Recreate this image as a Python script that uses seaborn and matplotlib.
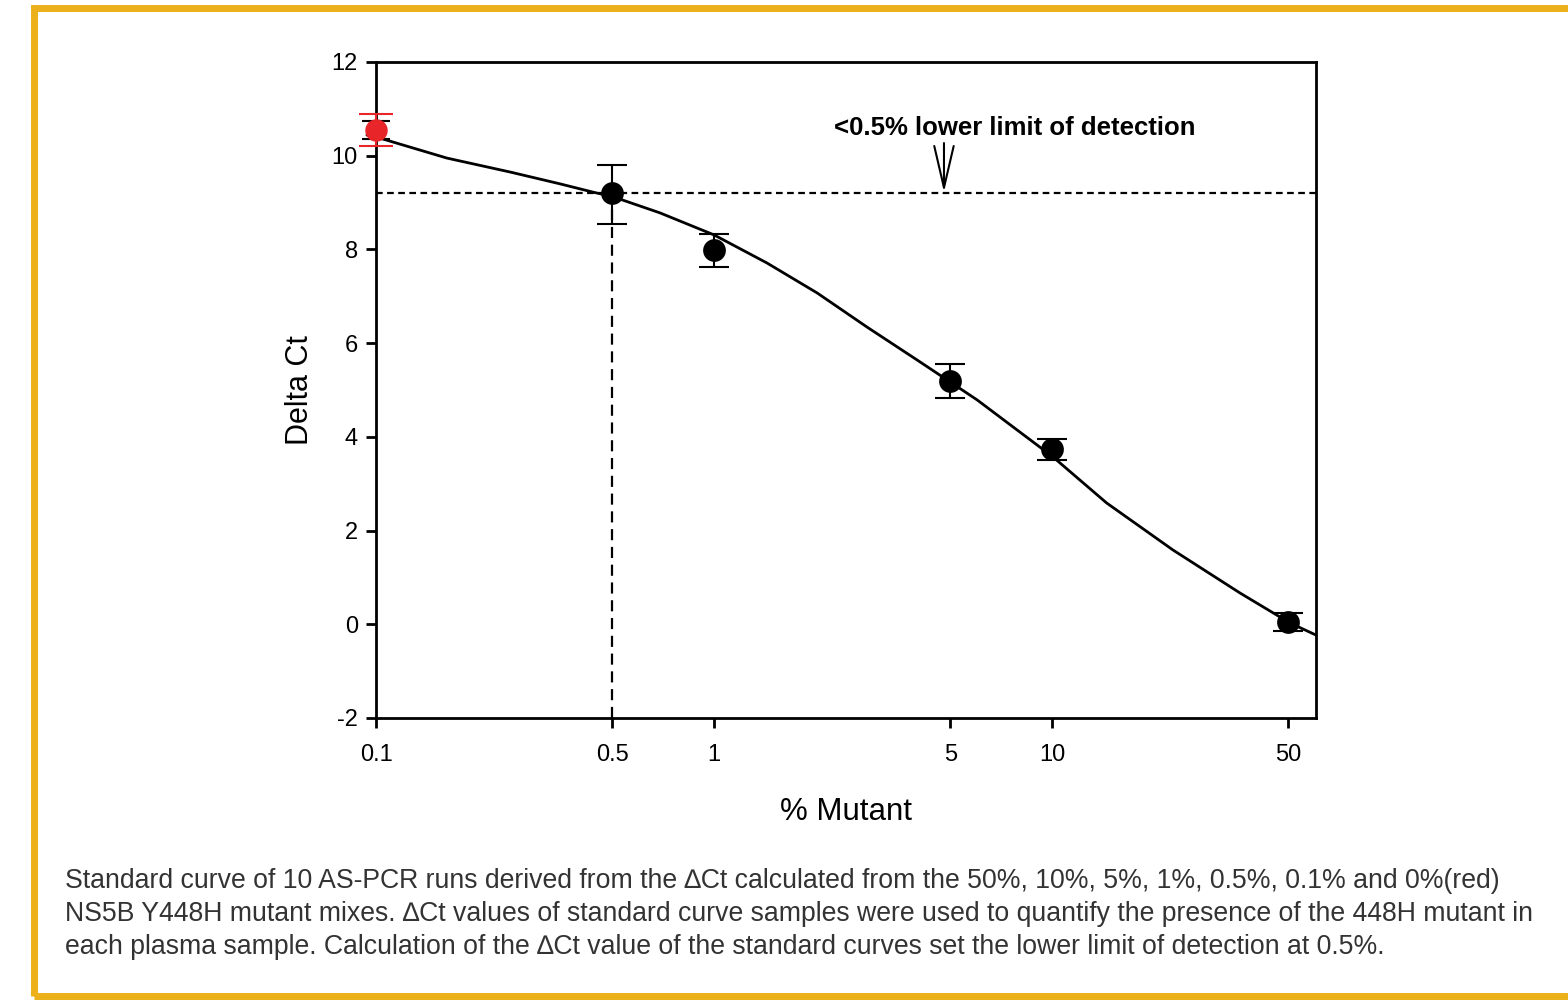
import numpy as np
import pandas as pd
import matplotlib
matplotlib.use("Agg")
import matplotlib.pyplot as plt
import seaborn as sns
from matplotlib.patches import Rectangle

# measured points (% mutant vs delta Ct)
mutant = [0.5, 1, 5, 10, 50]
delta_ct = [9.2, 7.99, 5.19, 3.74, 0.05]
err_lo = [0.65, 0.37, 0.36, 0.23, 0.19]
err_hi = [0.6, 0.34, 0.36, 0.21, 0.19]

# 0% sample (red), plotted at 0.1
zero_x = 0.1
zero_y = 10.55
zero_err_red = (0.35, 0.35)
zero_err_blk = (0.2, 0.2)

# fitted standard curve
fit_x = [0.094, 0.1, 0.162, 0.25, 0.35, 0.44, 0.5, 0.692, 1.0, 1.435, 2.02, 2.84,
         3.99, 5.0, 6.0, 10.07, 14.5, 22.8, 36.0, 50.6, 60.4]
fit_y = [10.44, 10.40, 9.95, 9.65, 9.40, 9.22, 9.13, 8.78, 8.31, 7.71, 7.07, 6.34,
         5.64, 5.17, 4.79, 3.57, 2.59, 1.585, 0.667, 0.027, -0.23]

lod_y = 9.2
lod_x = 0.5
xticks = [0.1, 0.5, 1, 5, 10, 50]
xticklabels = ["0.1", "0.5", "1", "5", "10", "50"]
yticks = [-2, 0, 2, 4, 6, 8, 10, 12]

caption = ("Standard curve of 10 AS-PCR runs derived from the \u2206Ct calculated from the 50%, 10%, 5%, 1%, 0.5%, 0.1% and 0%(red)\n"
           "NS5B Y448H mutant mixes. \u2206Ct values of standard curve samples were used to quantify the presence of the 448H mutant in\n"
           "each plasma sample. Calculation of the \u2206Ct value of the standard curves set the lower limit of detection at 0.5%.")

sns.set_style("white")
plt.rcParams['font.family'] = ['Liberation Sans', 'DejaVu Sans']
plt.rcParams['axes.unicode_minus'] = False
plt.rcParams['text.color'] = 'black'
plt.rcParams['axes.labelcolor'] = 'black'
plt.rcParams['xtick.color'] = 'black'
plt.rcParams['ytick.color'] = 'black'

fig = plt.figure(figsize=(15.68, 10), dpi=100)
ax = fig.add_axes([0.2398, 0.282, 0.5995, 0.656])
ax.set_xscale("log")

fit = pd.DataFrame({"x": fit_x, "y": fit_y})
sns.lineplot(data=fit, x="x", y="y", color="black", lw=2, ax=ax, clip_on=False, zorder=2)

ax.axhline(lod_y, color="black", ls=(0, (3, 2)), lw=1.6, zorder=1)
ax.plot([lod_x, lod_x], [-2, lod_y], color="black", ls=(0, (5, 3)), lw=1.6, zorder=1)

ax.errorbar(mutant, delta_ct, yerr=[err_lo, err_hi], fmt="none", ecolor="black",
            elinewidth=1.5, capsize=11, capthick=1.5, zorder=3)
ax.errorbar([zero_x], [zero_y], yerr=[[zero_err_blk[0]], [zero_err_blk[1]]], fmt="none",
            ecolor="black", elinewidth=1.5, capsize=10, capthick=1.5, zorder=3, clip_on=False)
ax.errorbar([zero_x], [zero_y], yerr=[[zero_err_red[0]], [zero_err_red[1]]], fmt="none",
            ecolor="#e8262a", elinewidth=1.5, capsize=12, capthick=1.5, zorder=4, clip_on=False)
pts = pd.DataFrame({"x": mutant, "y": delta_ct})
sns.scatterplot(data=pts, x="x", y="y", color="black", s=230, edgecolor="black", ax=ax, zorder=5)
ax.scatter([zero_x], [zero_y], s=230, color="#e8262a", zorder=6, clip_on=False)

ax.text(7.78, 10.6, "<0.5% lower limit of detection", ha="center", va="center",
        fontsize=18.5, fontweight="bold", color="black")
ax.annotate("", xy=(4.79, 9.22), xytext=(4.79, 10.27),
            arrowprops=dict(arrowstyle="->, head_length=1.5, head_width=0.35", color="black",
                            lw=1.5, mutation_scale=20, shrinkA=0, shrinkB=0))

ax.set_xlim(0.1, 60.4)
ax.set_ylim(-2, 12)
ax.set_xticks(xticks)
ax.set_xticklabels(xticklabels)
ax.xaxis.set_minor_locator(matplotlib.ticker.NullLocator())
ax.set_yticks(yticks)
ax.tick_params(axis="both", which="major", direction="out", length=7, width=2,
               labelsize=17, bottom=True, left=True, top=False, right=False)
ax.tick_params(axis="x", pad=12)
ax.tick_params(axis="y", pad=6)
for s in ax.spines.values():
    s.set_linewidth(2)
    s.set_color("black")
ax.set_xlabel("% Mutant", fontsize=22.5, labelpad=22)
ax.set_ylabel("Delta Ct", fontsize=22, labelpad=12)

fig.text(0.0415, 0.132, caption, fontsize=19.2, color="#333333", ha="left", va="top",
         linespacing=1.36)

# gold frame
fig.patches.append(Rectangle((0.0215, 0.004), 1.2, 0.988, transform=fig.transFigure,
                             fill=False, edgecolor="#ebb01a", lw=5))

fig.savefig("out.png", dpi=100)
